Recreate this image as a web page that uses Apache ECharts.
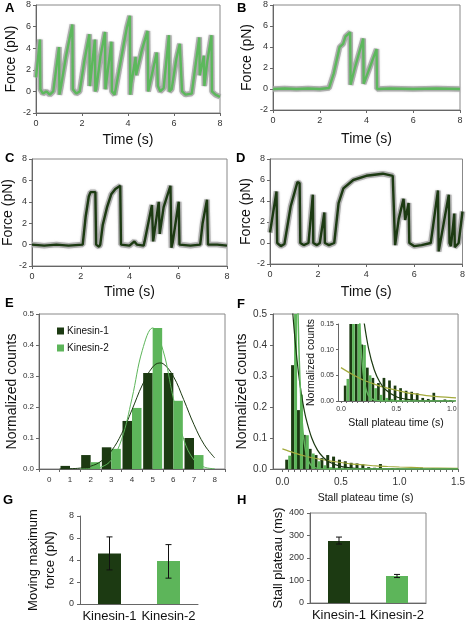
<!DOCTYPE html>
<html><head><meta charset="utf-8">
<script src="https://cdn.jsdelivr.net/npm/echarts@6/dist/echarts.min.js"></script>
<style>html,body{margin:0;padding:0;background:#fff}#c{width:468px;height:623px}</style>
</head><body><div id="c"></div>
<script>
// ---------- DATA ----------
// Force traces [time s, force pN]
const traceA = [[0,1.3],[0.17,4.8],[0.19,0.2],[0.3,-0.2],[0.45,0],[0.6,-0.3],[0.75,0],[1.0,4.1],[1.02,-0.3],[1.1,0.6],[1.3,3.2],[1.45,4.8],[1.58,6.2],[1.6,0.2],[1.75,-0.2],[1.9,0],[2.1,2.8],[2.32,5.3],[2.34,0.5],[2.56,4.8],[2.58,0],[2.62,0.2],[2.8,3.2],[3.0,5.5],[3.02,0.2],[3.28,4.6],[3.3,0],[3.42,-0.3],[3.6,1.8],[3.8,4.2],[3.95,5.9],[4.08,7.0],[4.1,-0.3],[4.15,0.8],[4.33,3.2],[4.35,1.5],[4.6,3.8],[4.85,5.6],[4.88,0],[5.0,1.2],[5.25,3.6],[5.3,0.5],[5.4,0],[5.55,0.3],[5.78,5.2],[5.8,0],[5.9,0.2],[6.1,3.0],[6.25,4.4],[6.33,4.5],[6.35,0],[6.5,-0.3],[6.77,-0.2],[7.1,5.0],[7.12,1.5],[7.3,3.3],[7.32,0.5],[7.45,2.8],[7.63,5.2],[7.65,0],[7.8,-0.3],[8,-0.5]];
const traceB = [[0,0],[0.5,0.05],[1,0],[1.5,0.05],[2,0],[2.4,0.1],[2.6,1.5],[2.75,3.0],[2.85,4.0],[3.0,4.3],[3.1,5.0],[3.3,5.4],[3.32,0.4],[3.5,2.0],[3.86,4.8],[3.88,0.5],[4.1,1.8],[4.43,3.8],[4.45,0],[5,0.05],[6,0],[7,0.05],[8,0]];
const traceC = [[0,0],[0.5,-0.1],[1,0],[1.5,-0.1],[2.08,0],[2.2,2.6],[2.33,4.5],[2.4,4.9],[2.6,4.9],[2.63,0],[2.75,-0.2],[2.8,0],[2.9,1.8],[3.08,3.5],[3.25,4.7],[3.42,5.2],[3.62,5.5],[3.65,0],[4.0,-0.1],[4.2,0.3],[4.3,0],[4.58,-0.1],[4.62,0.3],[4.92,3.7],[4.97,0.3],[5.2,4.0],[5.24,1.0],[5.4,3.5],[5.68,5.5],[5.72,-0.3],[5.77,0.2],[6.02,4.0],[6.05,0],[6.5,-0.1],[6.9,0],[7.0,2.0],[7.18,4.2],[7.22,0],[7.6,0],[8,-0.1]];
const traceD = [[0,1.0],[0.27,4.9],[0.3,0],[0.45,-0.3],[0.6,-0.1],[0.86,3.5],[1.14,5.8],[1.23,5.7],[1.26,0],[1.4,-0.2],[1.6,0],[1.78,4.6],[1.8,0],[1.95,-0.2],[2.07,0],[2.26,2.9],[2.28,0],[2.45,-0.2],[2.67,0],[2.85,3.8],[3.05,5.2],[3.46,6.0],[4.0,6.4],[4.69,6.6],[5.1,6.4],[5.18,6.3],[5.2,-0.2],[5.35,2.3],[5.55,4.2],[5.62,2.2],[5.76,3.8],[5.79,0],[6.0,-0.3],[6.3,-0.2],[6.68,0],[6.98,5.0],[7.01,-0.8],[7.43,4.6],[7.46,0],[7.52,-0.3],[7.66,2.8],[7.68,-0.4],[7.84,0],[8,3.0]];

// E: moving maximum force histogram
const forceCats = ['0','1','2','3','4','5','6','7','8'];
const k1Force = [0,0.01,0.045,0.07,0.155,0.31,0.31,0.10,0];
const k2Force = [0,0,0.022,0.065,0.197,0.455,0.22,0.045,0];
const k1ForceFit = [[0.5,0.0003],[1,0.001],[1.5,0.003],[2,0.009],[2.5,0.025],[3,0.058],[3.5,0.114],[4,0.191],[4.5,0.271],[5,0.329],[5.35,0.342],[5.5,0.340],[6,0.299],[6.5,0.224],[7,0.143],[7.5,0.078],[8,0.036]];
const k2ForceFit = [[1.5,0.0],[2,0.001],[2.5,0.006],[3,0.029],[3.5,0.096],[4,0.228],[4.5,0.383],[5,0.455],[5.5,0.383],[6,0.228],[6.5,0.096],[7,0.029],[7.5,0.006],[8,0.001]];

// F: stall plateau time histogram (bin centre s)
const stallBins = [0.05,0.10,0.15,0.20,0.25,0.30,0.35,0.40,0.45,0.50,0.55,0.60,0.65,0.70,0.75,0.80,0.85,0.90,0.95,1.00,1.05,1.10,1.15,1.20,1.25,1.30,1.35,1.40,1.45];
const k1Stall = [0.03,0.335,0.19,0.11,0.065,0.045,0.035,0.045,0.04,0.03,0.025,0.02,0.018,0.015,0.006,0.004,0.016,0,0.003,0.002,0,0,0,0.004,0,0.002,0,0,0.002];
const k2Stall = [0.043,0.6,0.24,0.109,0.05,0.025,0.012,0.006,0.004,0.002,0,0,0,0,0,0,0,0,0,0,0,0,0,0,0,0,0,0,0];
const k1StallFit = [[0.05,0.75],[0.08,0.55],[0.1,0.452],[0.125,0.352],[0.15,0.274],[0.175,0.213],[0.2,0.166],[0.25,0.101],[0.3,0.061],[0.35,0.037],[0.4,0.0225],[0.5,0.0083],[0.6,0.003],[0.7,0.001],[0.8,0.0004],[1.0,0],[1.5,0]];
const k2StallFit = [[0.12,0.79],[0.13,0.566],[0.14,0.406],[0.15,0.29],[0.16,0.21],[0.17,0.15],[0.18,0.107],[0.2,0.055],[0.22,0.028],[0.25,0.01],[0.3,0.002],[0.4,0],[1.5,0]];
const slowStallFit = [[0,0.065],[0.1,0.052],[0.2,0.041],[0.3,0.033],[0.4,0.026],[0.5,0.021],[0.6,0.016],[0.7,0.013],[0.8,0.010],[0.9,0.008],[1.0,0.0065],[1.2,0.004],[1.5,0.002]];
const stallMainLabels = [0,0.5,1.0,1.5];
const stallInsetLabels = [0,0.5,1.0];

// G / H
const motorCats = ['Kinesin-1','Kinesin-2'];
const maxForce = [4.6,3.9];
const maxForceErr = [[3.1,6.1],[2.35,5.4]];
const plateauMs = [276,120];
const plateauErr = [[262,293],[113,127]];

// ---------- STYLE ----------
const DARK = '#1c3a12', LIGHT = '#5db55a', OLIVE = '#a3aa3c';
const F = 'Liberation Sans';
const grids = [
  {left:36, top:5, width:184, height:108},
  {left:273, top:5, width:187, height:105},
  {left:32, top:159, width:195, height:107},
  {left:270, top:159, width:195, height:105},
  {left:39, top:314, width:186, height:155},
  {left:273, top:314, width:188, height:155},
  {left:338, top:324, width:116, height:77},
  {left:80, top:516, width:118, height:88},
  {left:310, top:513, width:116, height:90}
].map((g,i)=>Object.assign({show: [0,1,2,3,4,5,8].includes(i), borderColor:'#888', borderWidth:1, backgroundColor:'transparent', containLabel:false}, g));

const axLine = {show:true, onZero:false, lineStyle:{color:'#666', width:1}};
const tick = {show:true, length:3, lineStyle:{color:'#666'}};
const tickTxt = (s)=>({fontSize:s, color:'#333', fontFamily:F});
const nameTxt = (s)=>({fontSize:s, color:'#111', fontFamily:F});

function traceX(g, gap){return {gridIndex:g, type:'value', min:0, max:8, interval:2, name:'Time (s)', nameLocation:'middle', nameGap:gap, nameTextStyle:nameTxt(14), axisLine:axLine, axisTick:tick, axisLabel:Object.assign({margin:6}, tickTxt(9)), splitLine:{show:false}};}
function traceY(g, gap){return {gridIndex:g, type:'value', min:-2, max:8, interval:2, name:'Force (pN)', nameLocation:'middle', nameGap:gap, nameTextStyle:nameTxt(14), axisLine:axLine, axisTick:tick, axisLabel:Object.assign({margin:5}, tickTxt(9)), splitLine:{show:false}};}

const xAxis = [
  traceX(0,20), traceX(1,22), traceX(2,19), traceX(3,21),
  {gridIndex:4, type:'category', data:forceCats, axisLine:axLine, axisTick:{show:true,length:3,lineStyle:{color:'#666'}}, axisLabel:Object.assign({margin:7}, tickTxt(8))},
  {gridIndex:4, type:'value', min:-0.5, max:8.5, show:false},
  {gridIndex:5, type:'value', min:-0.08, max:1.5, name:'Stall plateau time (s)', nameLocation:'middle', nameGap:24, nameTextStyle:nameTxt(10.5),
    axisLine:axLine, axisTick:{show:true, length:3, lineStyle:{color:'#666'}, customValues: stallBins.concat([0,1.5])},
    axisLabel:Object.assign({margin:8, customValues: stallMainLabels, formatter:v=>v.toFixed(1)}, tickTxt(10)), splitLine:{show:false}},
  {gridIndex:6, type:'value', min:-0.027, max:1.02, name:'Stall plateau time (s)', nameLocation:'middle', nameGap:17, nameTextStyle:nameTxt(10.5),
    axisLine:axLine, axisTick:{show:true, length:2, lineStyle:{color:'#666'}, customValues: stallBins.filter(v=>v<=1.0).concat([0])},
    axisLabel:Object.assign({margin:5, customValues: stallInsetLabels, formatter:v=>v.toFixed(1)}, tickTxt(7)), splitLine:{show:false}},
  {gridIndex:7, type:'category', data:motorCats, axisLine:axLine, axisTick:{show:false}, axisLabel:Object.assign({margin:6, interval:0, hideOverlap:false}, tickTxt(13), {color:'#111'})},
  {gridIndex:8, type:'category', data:motorCats, axisLine:axLine, axisTick:{show:false}, axisLabel:Object.assign({margin:6, interval:0, hideOverlap:false}, tickTxt(13), {color:'#111'})}
];
const yAxis = [
  traceY(0,18), traceY(1,19), traceY(2,15), traceY(3,16),
  {gridIndex:4, type:'value', min:0, max:0.5, interval:0.1, name:'Normalized counts', nameLocation:'middle', nameGap:14, nameTextStyle:nameTxt(14), axisLine:axLine, axisTick:tick, axisLabel:Object.assign({margin:5, formatter:v=>v.toFixed(1)}, tickTxt(8)), splitLine:{show:false}},
  {gridIndex:5, type:'value', min:0, max:0.5, interval:0.1, name:'Normalized counts', nameLocation:'middle', nameGap:16, nameTextStyle:nameTxt(14), axisLine:axLine, axisTick:tick, axisLabel:Object.assign({margin:6, formatter:v=>v.toFixed(1)}, tickTxt(10)), splitLine:{show:false}},
  {gridIndex:6, type:'value', min:0, max:0.15, interval:0.05, name:'Normalized counts', nameLocation:'middle', nameGap:18, nameTextStyle:nameTxt(10.5), axisLine:axLine, axisTick:{show:true,length:2,lineStyle:{color:'#666'}}, axisLabel:Object.assign({margin:4, formatter:v=>v.toFixed(2)}, tickTxt(7)), splitLine:{show:false}},
  {gridIndex:7, type:'value', min:0, max:8, interval:2, name:'Moving maximum\nforce (pN)', nameLocation:'middle', nameGap:21, nameTextStyle:Object.assign(nameTxt(13),{lineHeight:17}), axisLine:axLine, axisTick:tick, axisLabel:Object.assign({margin:6}, tickTxt(9)), splitLine:{show:false}},
  {gridIndex:8, type:'value', min:0, max:400, interval:100, name:'Stall plateau (ms)', nameLocation:'middle', nameGap:25, nameTextStyle:nameTxt(13), axisLine:axLine, axisTick:tick, axisLabel:Object.assign({margin:6}, tickTxt(9)), splitLine:{show:false}}
];

function traceSeries(idx, data, color){
  return [
    {type:'line', xAxisIndex:idx, yAxisIndex:idx, data:data, showSymbol:false, silent:true,
      lineStyle:{color:'rgba(165,165,165,0.85)', width:5.5, shadowBlur:2, shadowColor:'rgba(180,180,180,0.7)'}},
    {type:'line', xAxisIndex:idx, yAxisIndex:idx, data:data, showSymbol:false, silent:true,
      lineStyle:{color:color, width:2.4}}
  ];
}
function errRender(params, api){
  const x = api.value(0);
  const lo = api.coord([x, api.value(1)]);
  const hi = api.coord([x, api.value(2)]);
  const w = 3, st = {stroke:'#111', lineWidth:1};
  return {type:'group', children:[
    {type:'line', shape:{x1:lo[0],y1:lo[1],x2:hi[0],y2:hi[1]}, style:st},
    {type:'line', shape:{x1:lo[0]-w,y1:lo[1],x2:lo[0]+w,y2:lo[1]}, style:st},
    {type:'line', shape:{x1:hi[0]-w,y1:hi[1],x2:hi[0]+w,y2:hi[1]}, style:st}
  ]};
}
const pair = (xs, ys) => xs.map((x,i)=>[x, ys[i]]);

const series = [].concat(
  traceSeries(0, traceA, '#5cb85c'),
  traceSeries(1, traceB, '#5cb85c'),
  traceSeries(2, traceC, DARK),
  traceSeries(3, traceD, DARK),
  [
    {name:'Kinesin-1', type:'bar', xAxisIndex:4, yAxisIndex:4, data:k1Force, barWidth:9.5, barGap:'0%', itemStyle:{color:DARK}},
    {name:'Kinesin-2', type:'bar', xAxisIndex:4, yAxisIndex:4, data:k2Force, barWidth:9.5, barGap:'0%', itemStyle:{color:LIGHT}},
    {type:'line', xAxisIndex:5, yAxisIndex:4, data:k1ForceFit, smooth:0.4, showSymbol:false, lineStyle:{color:DARK, width:1}},
    {type:'line', xAxisIndex:5, yAxisIndex:4, data:k2ForceFit, smooth:0.4, showSymbol:false, lineStyle:{color:LIGHT, width:1}},

    {name:'k1s', type:'bar', xAxisIndex:6, yAxisIndex:5, data:pair(stallBins,k1Stall), barWidth:3, barGap:'0%', clip:true, itemStyle:{color:DARK}},
    {name:'k2s', type:'bar', xAxisIndex:6, yAxisIndex:5, data:pair(stallBins,k2Stall), barWidth:3, barGap:'0%', clip:true, itemStyle:{color:LIGHT}},
    {type:'line', xAxisIndex:6, yAxisIndex:5, data:slowStallFit, smooth:0.3, showSymbol:false, clip:true, lineStyle:{color:OLIVE, width:1.2}},
    {type:'line', xAxisIndex:6, yAxisIndex:5, data:k1StallFit, smooth:0.3, showSymbol:false, clip:true, lineStyle:{color:DARK, width:1.2}},
    {type:'line', xAxisIndex:6, yAxisIndex:5, data:k2StallFit, smooth:0.3, showSymbol:false, clip:true, lineStyle:{color:LIGHT, width:1.5}},

    {name:'k1i', type:'bar', xAxisIndex:7, yAxisIndex:6, data:pair(stallBins,k1Stall).filter(d=>d[0]<=1.0), barWidth:2.7, barGap:'0%', clip:true, itemStyle:{color:DARK}},
    {name:'k2i', type:'bar', xAxisIndex:7, yAxisIndex:6, data:pair(stallBins,k2Stall).filter(d=>d[0]<=1.0), barWidth:2.7, barGap:'0%', clip:true, itemStyle:{color:LIGHT}},
    {type:'line', xAxisIndex:7, yAxisIndex:6, data:slowStallFit, smooth:0.3, showSymbol:false, clip:true, lineStyle:{color:OLIVE, width:1.2}},
    {type:'line', xAxisIndex:7, yAxisIndex:6, data:k1StallFit, smooth:0.3, showSymbol:false, clip:true, lineStyle:{color:DARK, width:1.2}},
    {type:'line', xAxisIndex:7, yAxisIndex:6, data:k2StallFit, smooth:0.3, showSymbol:false, clip:true, lineStyle:{color:LIGHT, width:1.5}},

    {type:'bar', xAxisIndex:8, yAxisIndex:7, data:maxForce.map((v,i)=>({value:v, itemStyle:{color:i?LIGHT:DARK}})), barWidth:23},
    {type:'custom', xAxisIndex:8, yAxisIndex:7, data:maxForceErr.map((e,i)=>[i,e[0],e[1]]), renderItem:errRender, z:5},
    {type:'bar', xAxisIndex:9, yAxisIndex:8, data:plateauMs.map((v,i)=>({value:v, itemStyle:{color:i?LIGHT:DARK}})), barWidth:22},
    {type:'custom', xAxisIndex:9, yAxisIndex:8, data:plateauErr.map((e,i)=>[i,e[0],e[1]]), renderItem:errRender, z:5}
  ]
);

const letters = [['A',5,2],['B',237,2],['C',5,152],['D',236,152],['E',5,297],['F',237,298],['G',3,494],['H',237,494]];
const graphic = letters.map(l=>({type:'text', left:l[1], top:l[2], style:{text:l[0], font:'bold 13px "Liberation Sans"', fill:'#000'}}));

const chart = echarts.init(document.getElementById('c'), null, {width:468, height:623});
chart.setOption({
  animation:false,
  textStyle:{fontFamily:F},
  grid:grids, xAxis:xAxis, yAxis:yAxis, series:series, graphic:graphic,
  legend:{data:['Kinesin-1','Kinesin-2'], orient:'vertical', left:52, top:321, itemWidth:7, itemHeight:7, itemGap:7, icon:'rect', selectedMode:false, textStyle:{fontSize:10, color:'#111', fontFamily:F, padding:[0,0,0,-2]}}
});
</script></body></html>
